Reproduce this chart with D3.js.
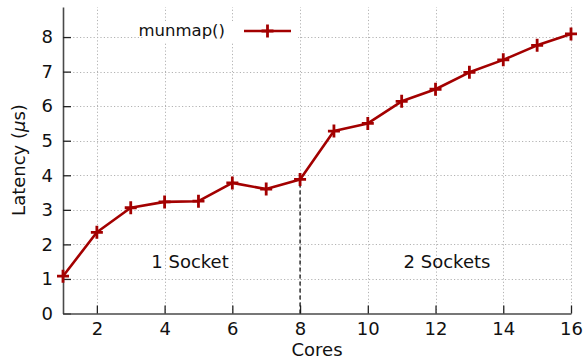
<!DOCTYPE html>
<html>
<head>
<meta charset="utf-8">
<script src="https://cdn.jsdelivr.net/npm/d3@7"></script>
<style>
  html, body { margin: 0; padding: 0; background: #fff; }
  svg { display: block; }
  text { font-family: "DejaVu Sans", sans-serif; fill: #111; }
</style>
</head>
<body>
<svg id="chart" width="583" height="359"></svg>
<script>
// Latency of munmap() against number of cores
const cores = [1, 2, 3, 4, 5, 6, 7, 8, 9, 10, 11, 12, 13, 14, 15, 16];
const latency = [1.08, 2.35, 3.06, 3.23, 3.25, 3.78, 3.60, 3.88, 5.28, 5.50, 6.14, 6.49, 6.98, 7.34, 7.76, 8.09];
const xTicks = [2, 4, 6, 8, 10, 12, 14, 16];
const yTicks = [0, 1, 2, 3, 4, 5, 6, 7, 8];
const seriesName = "munmap()";
const socketBoundary = 8;
const regionLabels = ["1 Socket", "2 Sockets"];

const svg = d3.select("#chart");
const red = "#a30000";

const x = d3.scaleLinear().domain([1, 16]).range([63, 571]);
const y = d3.scaleLinear().domain([0, 8.87]).range([313.5, 7]);

// grid
const grid = svg.append("g").attr("stroke", "#b3b3b3").attr("stroke-width", 1)
  .attr("stroke-dasharray", "1.2,2.2");
grid.selectAll("line.h").data(yTicks.filter(d => d > 0)).join("line")
  .attr("x1", x(1)).attr("x2", x(16))
  .attr("y1", d => Math.round(y(d)) + 0.5).attr("y2", d => Math.round(y(d)) + 0.5);
grid.selectAll("line.v").data(xTicks).join("line")
  .attr("x1", d => Math.round(x(d)) + 0.5).attr("x2", d => Math.round(x(d)) + 0.5)
  .attr("y1", y(0)).attr("y2", y.range()[1]);

// axes
const yAxis = d3.axisLeft(y).tickValues(yTicks).tickSizeInner(-8).tickSizeOuter(0).tickPadding(10);
const xAxis = d3.axisBottom(x).tickValues(xTicks).tickSizeInner(-8).tickSizeOuter(0).tickPadding(9);

const gy = svg.append("g").attr("transform", `translate(${x(1)},0)`).call(yAxis);
const gx = svg.append("g").attr("transform", `translate(0,${y(0)})`).call(xAxis);
[gx, gy].forEach(g => {
  g.select(".domain").attr("stroke", "#4a4a4a").attr("stroke-width", 1.6);
  g.selectAll(".tick line").attr("stroke", "#222").attr("stroke-width", 1.3);
  g.selectAll(".tick text").attr("font-family", "DejaVu Sans, sans-serif")
    .attr("font-size", 18).attr("fill", "#111");
});

// socket boundary
const bIdx = cores.indexOf(socketBoundary);
svg.append("line")
  .attr("x1", x(socketBoundary)).attr("x2", x(socketBoundary))
  .attr("y1", y(0)).attr("y2", y(latency[bIdx]))
  .attr("stroke", "#111").attr("stroke-width", 1.3).attr("stroke-dasharray", "4,3");

// region labels
svg.append("text").attr("x", 190).attr("y", 268).attr("text-anchor", "middle")
  .attr("font-size", 18).text(regionLabels[0]);
svg.append("text").attr("x", 447).attr("y", 268).attr("text-anchor", "middle")
  .attr("font-size", 18).text(regionLabels[1]);

// series line
const pts = cores.map((c, i) => [c, latency[i]]);
svg.append("path").datum(pts)
  .attr("fill", "none").attr("stroke", red).attr("stroke-width", 2.6)
  .attr("stroke-linejoin", "round")
  .attr("d", d3.line().x(d => x(d[0])).y(d => y(d[1])));

const plus = (g, cx, cy) => {
  g.append("path")
    .attr("d", `M${cx - 6},${cy}H${cx + 6}M${cx},${cy - 6.5}V${cy + 6.5}`)
    .attr("stroke", red).attr("stroke-width", 2.8).attr("fill", "none");
};
const markers = svg.append("g");
pts.forEach(d => plus(markers, x(d[0]), y(d[1])));

// key
const key = svg.append("g");
key.append("rect").attr("x", 143).attr("y", 21).attr("width", 155).attr("height", 21).attr("fill", "#fff");
key.append("text").attr("x", 225).attr("y", 36).attr("text-anchor", "end")
  .attr("font-family", "Liberation Mono, monospace").attr("font-size", 16.5).text(seriesName);
key.append("line").attr("x1", 244).attr("x2", 291).attr("y1", 31).attr("y2", 31)
  .attr("stroke", red).attr("stroke-width", 2.6);
plus(key, 267.5, 31);

// axis titles
svg.append("text").attr("x", x(8.5)).attr("y", 356).attr("text-anchor", "middle")
  .attr("font-size", 18).text("Cores");
const yl = svg.append("text").attr("transform", "translate(25,160) rotate(-90)")
  .attr("text-anchor", "middle").attr("font-size", 18);
yl.append("tspan").text("Latency (");
yl.append("tspan").attr("font-style", "italic").text("μ");
yl.append("tspan").text("s)");
</script>
</body>
</html>
